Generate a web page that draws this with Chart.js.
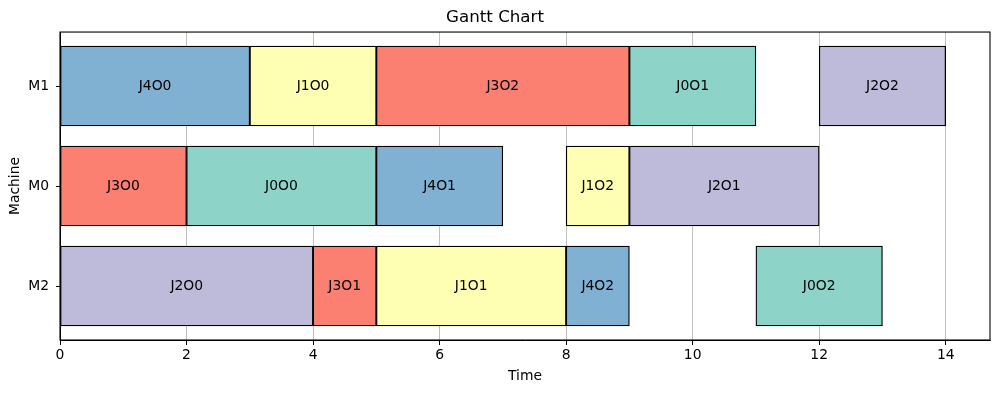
<!DOCTYPE html>
<html>
<head>
<meta charset="utf-8">
<script src="https://cdn.jsdelivr.net/npm/chart.js@4.4.1/dist/chart.umd.min.js"></script>
<style>
  html, body { margin: 0; padding: 0; background: #ffffff; }
  #wrap { width: 1000px; height: 393px; position: relative; }
</style>
</head>
<body>
<div id="wrap"><canvas id="c"></canvas></div>
<script>
// ---- data ----
const machines = ['M2', 'M0', 'M1'];            // y index 0 (bottom) .. 2 (top)
const taskLabels   = ['J4O0','J1O0','J3O2','J0O1','J2O2', 'J3O0','J0O0','J4O1','J1O2','J2O1', 'J2O0','J3O1','J1O1','J4O2','J0O2'];
const taskMachines = ['M1','M1','M1','M1','M1', 'M0','M0','M0','M0','M0', 'M2','M2','M2','M2','M2'];
const taskStarts   = [0, 3, 5, 9, 12,  0, 2, 5, 8, 9,  0, 4, 5, 8, 11];
const taskEnds     = [3, 5, 9, 11, 14, 2, 5, 7, 9, 12, 4, 5, 8, 9, 13];
const taskJobs     = [4, 1, 3, 0, 2,   3, 0, 4, 1, 2,  2, 3, 1, 4, 0];
const jobColors    = ['#8dd3c7', '#ffffb3', '#bebada', '#fb8072', '#80b1d3'];
const xTickValues  = [0, 2, 4, 6, 8, 10, 12, 14];
const yTickValues  = [0, 1, 2];

const FONT = 'DejaVu Sans';

const barData = taskLabels.map((l, i) => ({ x: [taskStarts[i], taskEnds[i]], y: machines.indexOf(taskMachines[i]) }));
const barColors = taskJobs.map(j => jobColors[j]);

const labelPlugin = {
  id: 'barLabels',
  afterDraw(chart) {
    const ctx = chart.ctx;
    const meta = chart.getDatasetMeta(0);
    ctx.save();
    ctx.font = '13.9px "' + FONT + '"';
    ctx.fillStyle = '#000';
    ctx.textAlign = 'center';
    ctx.textBaseline = 'middle';
    meta.data.forEach((el, i) => {
      const p = el.getCenterPoint();
      ctx.fillText(taskLabels[i], p.x, p.y);
    });
    // frame
    const a = chart.chartArea;
    ctx.strokeStyle = '#000';
    ctx.lineWidth = 1.1;
    ctx.strokeRect(a.left, a.top, a.right - a.left, a.bottom - a.top);
    ctx.restore();
  }
};

new Chart(document.getElementById('c'), {
  type: 'bar',
  data: {
    datasets: [{
      data: barData,
      backgroundColor: barColors,
      borderColor: '#000',
      borderWidth: 1.3,
      borderSkipped: false,
      barThickness: 80
    }]
  },
  options: {
    indexAxis: 'y',
    responsive: true,
    maintainAspectRatio: false,
    animation: false,
    layout: { padding: { left: 0, right: 10, top: 0, bottom: 0 } },
    plugins: {
      legend: { display: false },
      tooltip: { enabled: false },
      title: {
        display: true,
        text: 'Gantt Chart',
        color: '#000',
        font: { family: FONT, size: 16.7, weight: 'normal' },
        padding: { top: 8, bottom: 4 }
      }
    },
    scales: {
      x: {
        type: 'linear',
        position: 'bottom',
        min: 0,
        max: 14.7,
        z: 1,
        offset: false,
        afterBuildTicks: s => { s.ticks = xTickValues.map(v => ({ value: v })); },
        afterFit: s => { s.height = 53; },
        grid: { offset: false, color: '#b0b0b0', lineWidth: 0.8, drawOnChartArea: true, drawTicks: true, tickLength: 5, tickColor: '#000', tickWidth: 1 },
        border: { display: true, color: '#000', width: 1 },
        ticks: { color: '#000', font: { family: FONT, size: 13.9 }, padding: 2, maxRotation: 0 },
        title: { display: true, text: 'Time', color: '#000', font: { family: FONT, size: 13.9 }, padding: { top: 0, bottom: 8 } }
      },
      y: {
        type: 'linear',
        min: -0.54,
        max: 2.54,
        offset: false,
        afterBuildTicks: s => { s.ticks = yTickValues.map(v => ({ value: v })); },
        afterFit: s => { s.width = 60; },
        grid: { offset: false, drawOnChartArea: false, drawTicks: true, tickLength: 4, tickColor: '#000', tickWidth: 1 },
        border: { display: true, color: '#000', width: 1 },
        ticks: { color: '#000', font: { family: FONT, size: 13.9 }, padding: 7, callback: v => machines[v] },
        title: { display: true, text: 'Machine', color: '#000', font: { family: FONT, size: 13.9 }, padding: { top: 7, bottom: 0 } }
      }
    }
  },
  plugins: [labelPlugin]
});
</script>
</body>
</html>
